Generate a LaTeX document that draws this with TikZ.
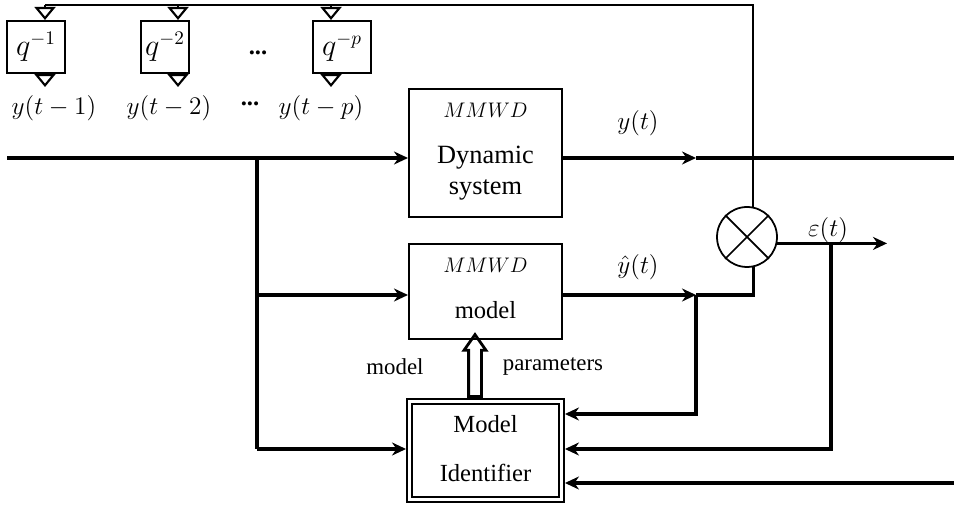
\documentclass[tikz,border=0pt]{standalone}
\usepackage{fontspec}
\setmainfont{Liberation Serif}
\usepackage{amsmath,amssymb}
\usetikzlibrary{arrows.meta,shapes.arrows}

\begin{document}
\begin{tikzpicture}[x=0.02cm,y=-0.02cm,
  every node/.style={font=\fontsize{14}{17}\selectfont},
  sig/.style={line width=2pt},
  sigarr/.style={line width=2pt,-{Stealth[length=0.28cm,width=0.26cm]}},
  fbk/.style={line width=1.2pt},
  dly/.style={line width=1.2pt,-{Triangle[open,length=0.26cm,width=0.42cm]}},
  delaybox/.style={draw,line width=1.2pt,minimum width=1.16cm,minimum height=1.04cm,inner sep=0pt,
    font=\fontsize{16}{18}\selectfont},
  sysbox/.style={draw,line width=1.2pt,minimum width=3.06cm,inner sep=0pt},
  identbox/.style={draw,double,line width=0.04cm,double distance=0.06cm,outer sep=0.07cm,
    minimum width=3.04cm,minimum height=1.96cm,inner sep=0pt},
  sumnode/.style={circle,draw,line width=1pt,minimum size=1.2cm,inner sep=0pt},
  parbig/.style={single arrow,draw,line width=1.6pt,rotate=90,minimum height=1.24cm,
    inner sep=0.1cm,single arrow head extend=0.09cm,single arrow tip angle=70},
  small/.style={font=\fontsize{12.5}{14}\selectfont}]
\useasboundingbox (0,0) rectangle (954,506);
\node[delaybox] (d1) at (36,47) {$q^{-1}$};
\node[delaybox,minimum width=0.96cm] (d2) at (165,47) {$q^{-2}$};
\node[delaybox] (dp) at (342,47) {$q^{-p}$};
\node (dots) at (258,53) {\textbf{...}};
\node (l1) at (54,108) {$y(t-1)$};
\node (l2) at (169,108) {$y(t-2)$};
\node (ldots) at (250,104) {\textbf{...}};
\node (lp) at (321,108) {$y(t-p)$};
\node[sysbox,minimum height=2.56cm] (sys) at (485.5,153) {};
\node[small] (sysa) at (485.5,110) {$MMWD$};
\node[align=center,font=\fontsize{15}{18}\selectfont] (sysb) at (485.5,173) {Dynamic\\system};
\node[sysbox,minimum height=1.9cm] (model) at (485.5,291.5) {};
\node[small] (modela) at (485.5,265) {$MMWD$};
\node (modelb) at (485.5,310) {model};
\node[identbox] (ident) at (485.5,450.5) {};
\node (identa) at (485.5,424) {Model};
\node (identb) at (485.5,473) {Identifier};
\node[sumnode] (sum) at (747,237) {};
\draw[line width=1pt] (sum.north east) -- (sum.south west) (sum.north west) -- (sum.south east);
\coordinate (t1) at (45,5);
\coordinate (t2) at (178,5);
\coordinate (tp) at (331,5);
\coordinate (o1) at (45,87);
\coordinate (o2) at (178,87);
\coordinate (op) at (331,87);
\coordinate (in) at (7,158);
\coordinate (br) at (257,158);
\coordinate (bm) at (257,295);
\coordinate (bi) at (257,449);
\coordinate (yo) at (696,158);
\coordinate (ye) at (954,158);
\coordinate (yh) at (696,295);
\coordinate (i1) at (696,414);
\coordinate (eo) at (887,243);
\coordinate (ej) at (831,243);
\coordinate (re) at (954,483);
\coordinate (px) at (475,400);
\draw[fbk] (sum.78) -- (sum.78 |- t1) -- (t1);
\draw[dly] (t1) -- (t1 |- d1.north);
\draw[dly] (t2) -- (t2 |- d2.north);
\draw[dly] (tp) -- (tp |- dp.north);
\draw[dly] (t1 |- d1.south) -- (o1);
\draw[dly] (t2 |- d2.south) -- (o2);
\draw[dly] (tp |- dp.south) -- (op);
\draw[sigarr] (in) -- (in -| sys.west);
\draw[sig] (br) -- (bi);
\draw[sigarr] (bm) -- (bm -| model.west);
\draw[sigarr] (bi) -- (bi -| ident.west);
\draw[sigarr] (sys.east |- in) -- (yo);
\draw[sig] (yo) -- (ye);
\draw[sigarr] (model.east |- bm) -- (yh);
\draw[sig] (yh) -- (yh -| sum.-78) -- (sum.-78);
\draw[sigarr] (yh) -- (i1) -- (i1 -| ident.east);
\draw[sigarr] (sum.-12) -- (sum.-12 -| eo);
\draw[sigarr] (ej) -- (ej |- bi) -- (bi -| ident.east);
\draw[sigarr] (re) -- (re -| ident.east);
\node[parbig,anchor=tail] (par) at (px |- ident.north) {};
\node (yl) at (638,123) {$y(t)$};
\node (yhl) at (638,267) {$\hat{y}(t)$};
\node (el) at (828,230) {$\varepsilon(t)$};
\node[font=\fontsize{13}{15}\selectfont] (parl) at (395,367) {model};
\node[font=\fontsize{13}{15}\selectfont] (parr) at (553,367) {parameters};
\end{tikzpicture}
\end{document}
